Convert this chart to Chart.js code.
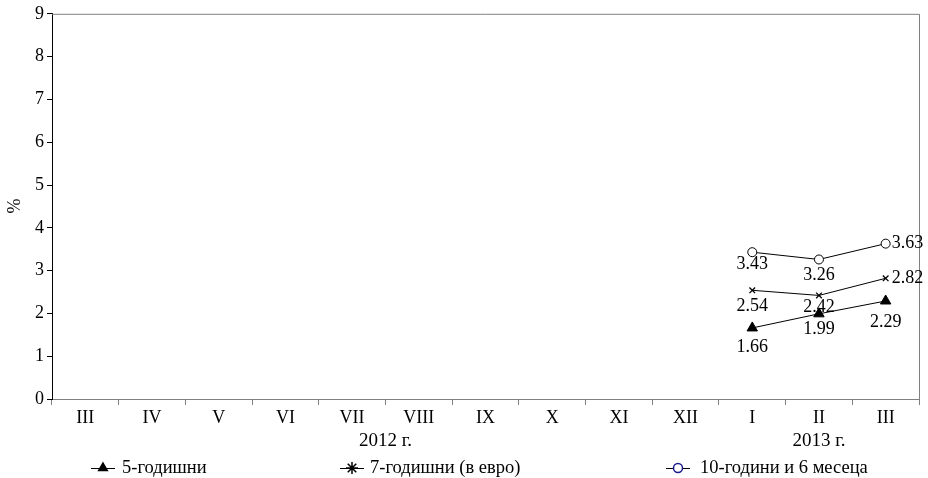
<!DOCTYPE html>
<html><head><meta charset="utf-8">
<script src="https://cdn.jsdelivr.net/npm/chart.js@4"></script>
<style>html,body{margin:0;padding:0;background:#fff}#wrap{width:928px;height:478px;position:relative}canvas{display:block}</style>
</head><body><div id="wrap"><canvas id="c" width="928" height="478"></canvas></div>
<script>
const categories = ["III","IV","V","VI","VII","VIII","IX","X","XI","XII","I","II","III"];
const years = [{label:"2012 г.", from:0, to:9},{label:"2013 г.", from:10, to:12}];
const seriesNames = ["5-годишни","7-годишни (в евро)","10-години и 6 месеца"];
const y5 = [null,null,null,null,null,null,null,null,null,null,1.66,1.99,2.29];
const y7 = [null,null,null,null,null,null,null,null,null,null,2.54,2.42,2.82];
const y10 = [null,null,null,null,null,null,null,null,null,null,3.43,3.26,3.63];
const yTicks = [0,1,2,3,4,5,6,7,8,9];
// label placement: [position, offset]
const labelPos = [
  [["below",19],["below",15],["below",21]],
  [["below",16],["below",12],["right",6]],
  [["below",12],["below",16],["right",6]]
];

const FONT = "'Liberation Serif', 'Times New Roman', serif";

const extras = {
  id:'extras',
  afterDraw(chart){
    const ctx = chart.ctx, ca = chart.chartArea, xs = chart.scales.x;
    ctx.save();
    ctx.strokeStyle = '#808080'; ctx.lineWidth = 1;
    ctx.beginPath();
    ctx.moveTo(ca.left, ca.top+0.5); ctx.lineTo(ca.right+0.5, ca.top+0.5);
    ctx.lineTo(ca.right+0.5, ca.bottom);
    ctx.stroke();
    ctx.fillStyle = '#000'; ctx.font = '18px ' + FONT;
    chart.data.datasets.forEach((ds, di) => {
      const meta = chart.getDatasetMeta(di);
      let k = 0;
      ds.data.forEach((v, i) => {
        if (v === null) return;
        const p = meta.data[i];
        const [pos, off] = labelPos[di][k++];
        const t = v.toFixed(2);
        if (pos === 'right') { ctx.textAlign='left'; ctx.textBaseline='middle'; ctx.fillText(t, p.x+off, p.y); }
        else { ctx.textAlign='center'; ctx.textBaseline='middle'; ctx.fillText(t, p.x, p.y+off); }
      });
    });
    ctx.textAlign='center'; ctx.textBaseline='middle';
    ctx.font = '19px ' + FONT;
    years.forEach(yr => {
      const x = (xs.getPixelForValue(yr.from) + xs.getPixelForValue(yr.to))/2;
      ctx.fillText(yr.label, x, 441);
    });
    ctx.font = '18px ' + FONT;
    ctx.save(); ctx.translate(15, 206); ctx.rotate(-Math.PI/2);
    ctx.fillText('%', 0, 0); ctx.restore();
    const items = [
      {x:91, style:'triangle', fill:'#000', stroke:'#000', r:5, tx:122},
      {x:340, style:'star', fill:'#000', stroke:'#000', r:6, tx:370},
      {x:666, style:'circle', fill:'#fff', stroke:'#1a1a8c', r:4.5, tx:700}
    ];
    const ly = 468;
    ctx.font = '18.5px ' + FONT;
    items.forEach((it, i) => {
      ctx.strokeStyle = '#000'; ctx.lineWidth = 1;
      ctx.beginPath(); ctx.moveTo(it.x, ly+0.5); ctx.lineTo(it.x+24, ly+0.5); ctx.stroke();
      ctx.fillStyle = it.fill; ctx.strokeStyle = it.stroke; ctx.lineWidth = 1.5;
      Chart.helpers.drawPoint(ctx, {pointStyle: it.style, radius: it.r, borderWidth: 1.5, rotation:0}, it.x+12, ly);
      ctx.fillStyle = '#000'; ctx.textAlign='left'; ctx.textBaseline='middle';
      ctx.fillText(seriesNames[i], it.tx, ly);
    });
    ctx.restore();
  }
};

const chart = new Chart(document.getElementById('c'), {
  type:'line',
  data:{
    labels: categories,
    datasets:[
      {label:seriesNames[0], data:y5, borderColor:'#000', borderWidth:1, pointStyle:'triangle', pointRadius:6, pointBackgroundColor:'#000', pointBorderColor:'#000'},
      {label:seriesNames[1], data:y7, borderColor:'#000', borderWidth:1, pointStyle:'crossRot', pointRadius:4, pointBorderWidth:1.3, pointBackgroundColor:'#000', pointBorderColor:'#000'},
      {label:seriesNames[2], data:y10, borderColor:'#000', borderWidth:1, pointStyle:'circle', pointRadius:4.5, pointBorderWidth:1, pointBackgroundColor:'#fff', pointBorderColor:'#000'}
    ]
  },
  options:{
    responsive:false, animation:false, devicePixelRatio:1,
    layout:{padding:{left:0, right:9, top:13, bottom:0}},
    plugins:{legend:{display:false}, tooltip:{enabled:false}},
    scales:{
      x:{
        offset:true,
        grid:{offset:true, drawOnChartArea:false, tickLength:6, color:'#808080'},
        border:{color:'#808080', width:1},
        ticks:{color:'#000', font:{family:FONT, size:18}, padding:2, autoSkip:false, maxRotation:0},
        afterFit(s){ s.height = 79; }
      },
      y:{
        min:0, max:9,
        afterBuildTicks(s){ s.ticks = yTicks.map(v=>({value:v})); },
        grid:{drawOnChartArea:false, tickLength:5, color:'#000'},
        border:{color:'#000', width:1},
        ticks:{color:'#000', font:{family:FONT, size:18}, padding:3, autoSkip:false},
        afterFit(s){ s.width = 52; }
      }
    }
  },
  plugins:[extras]
});
</script>
</body></html>
